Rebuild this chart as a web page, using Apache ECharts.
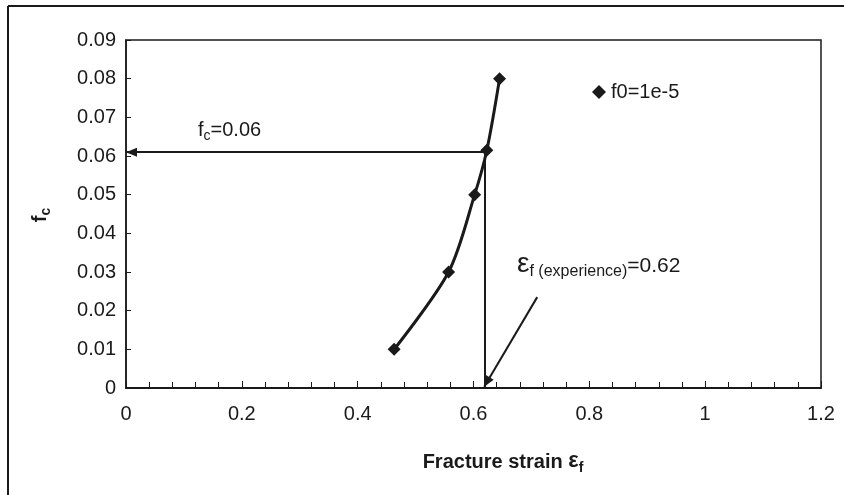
<!DOCTYPE html>
<html>
<head>
<meta charset="utf-8">
<script src="https://cdn.jsdelivr.net/npm/echarts@6/dist/echarts.min.js"></script>
<style>
  html, body { margin: 0; padding: 0; background: #fff; }
  #chart { width: 844px; height: 495px; }
</style>
</head>
<body>
<div id="chart"></div>
<script>
// Fracture strain vs. critical void fraction, f0 = 1e-5
const strain = [0.463, 0.557, 0.602, 0.623, 0.645];
const fcValues = [0.01, 0.03, 0.05, 0.0615, 0.08];
const seriesName = 'f0=1e-5';

// Experimental fracture strain and the matching critical void fraction
const criticalStrain = 0.62;
const criticalFc = 0.061;

// Pointer from the strain annotation down to the axis
const pointerFrom = [0.71, 0.0235];
const pointerTo = [0.6185, 0.0003];

const FONT = '"Liberation Sans", Arial, Helvetica, sans-serif';
const INK = '#1a1a1a';

// Solid arrow head whose tip sits on the symbol centre (the lone move-to balances the box)
const ARROW_HEAD = 'path://M0,0 L-4,10 L4,10 Z M0,-10';

const measureCtx = document.createElement('canvas').getContext('2d');
function textWidth(text, size, weight) {
  measureCtx.font = (weight || 'normal') + ' ' + size + 'px ' + FONT;
  return measureCtx.measureText(text).width;
}

// Lay out runs of text left to right on a shared baseline; dy shifts a run down (subscripts)
function textRuns(x, baseline, parts) {
  const out = [];
  let cx = x;
  parts.forEach(p => {
    const size = p.size;
    out.push({
      type: 'text',
      x: cx,
      y: baseline + (p.dy || 0) - 0.35 * size,
      style: {
        text: p.text,
        font: (p.weight || 'normal') + ' ' + size + 'px ' + FONT,
        fill: INK,
        align: 'left',
        verticalAlign: 'middle'
      },
      silent: true
    });
    cx += textWidth(p.text, size, p.weight);
  });
  return out;
}
function runsWidth(parts) {
  return parts.reduce((s, p) => s + textWidth(p.text, p.size, p.weight), 0);
}

const fcLabel = [
  { text: 'f', size: 20 },
  { text: 'c', size: 14, dy: 4 },
  { text: '=' + criticalFc.toFixed(2), size: 20 }
];
const strainLabel = [
  { text: '\u03b5', size: 28 },
  { text: 'f (experience)', size: 16, dy: 3 },
  { text: '=' + criticalStrain.toFixed(2), size: 21 }
];
const xTitle = [
  { text: 'Fracture strain ', size: 20, weight: 'bold' },
  { text: '\u03b5', size: 22, weight: 'bold' },
  { text: 'f', size: 14, weight: 'bold', dy: 4 }
];
const yTitle = [
  { text: 'f', size: 20, weight: 'bold' },
  { text: 'c', size: 14, weight: 'bold', dy: 4 }
];

const chart = echarts.init(document.getElementById('chart'));

chart.setOption({
  animation: false,
  backgroundColor: '#fff',
  textStyle: { fontFamily: FONT, color: INK },
  grid: {
    left: 126, top: 40, right: 23, bottom: 107,
    show: true, borderColor: INK, borderWidth: 1.5, backgroundColor: 'transparent'
  },
  legend: {
    data: [seriesName],
    left: 592, top: 82, padding: 0,
    icon: 'diamond', itemWidth: 14, itemHeight: 14,
    textStyle: { fontSize: 20, color: INK, fontFamily: FONT },
    selectedMode: false
  },
  xAxis: {
    type: 'value', min: 0, max: 1.2, interval: 0.2,
    axisLine: { lineStyle: { color: INK, width: 2 } },
    axisTick: { inside: true, length: 7, lineStyle: { color: INK, width: 1 } },
    minorTick: { show: true, splitNumber: 5, length: 6, lineStyle: { color: INK, width: 1 } },
    axisLabel: { fontSize: 20, color: INK, margin: 16, fontFamily: FONT },
    splitLine: { show: false }
  },
  yAxis: {
    type: 'value', min: 0, max: 0.09, interval: 0.01,
    axisLine: { show: true, lineStyle: { color: INK, width: 1.5 } },
    axisTick: { inside: true, length: 5, lineStyle: { color: INK, width: 1 } },
    axisLabel: { fontSize: 20, color: INK, margin: 10, fontFamily: FONT },
    splitLine: { show: false }
  },
  series: [{
    type: 'line',
    name: seriesName,
    data: strain.map((x, i) => [x, fcValues[i]]),
    smooth: 0.3,
    symbol: 'diamond',
    symbolSize: 13,
    lineStyle: { color: INK, width: 3 },
    itemStyle: { color: INK },
    z: 3,
    markLine: {
      silent: true,
      symbol: ['none', ARROW_HEAD],
      symbolSize: [9, 22],
      label: { show: false },
      itemStyle: { color: INK },
      lineStyle: { color: INK, width: 2, type: 'solid' },
      emphasis: { disabled: true },
      data: [
        [{ coord: [criticalStrain, criticalFc] }, { coord: [0, criticalFc] }],
        [{ coord: [criticalStrain, criticalFc], symbol: 'none' }, { coord: [criticalStrain, 0], symbol: 'none' }],
        [{ coord: pointerFrom }, { coord: pointerTo }]
      ]
    }
  }],
  graphic: [
    { type: 'line', shape: { x1: 8, y1: 6, x2: 844, y2: 6 }, style: { stroke: INK, lineWidth: 2 }, silent: true },
    { type: 'line', shape: { x1: 8, y1: 6, x2: 8, y2: 495 }, style: { stroke: INK, lineWidth: 2 }, silent: true },
    ...textRuns(198, 137, fcLabel),
    ...textRuns(517, 274, strainLabel),
    ...textRuns(503 - runsWidth(xTitle) / 2, 469, xTitle),
    {
      type: 'group', x: 47, y: 215, rotation: Math.PI / 2, silent: true,
      children: textRuns(-runsWidth(yTitle) / 2, 0, yTitle)
    }
  ]
});
</script>
</body>
</html>
